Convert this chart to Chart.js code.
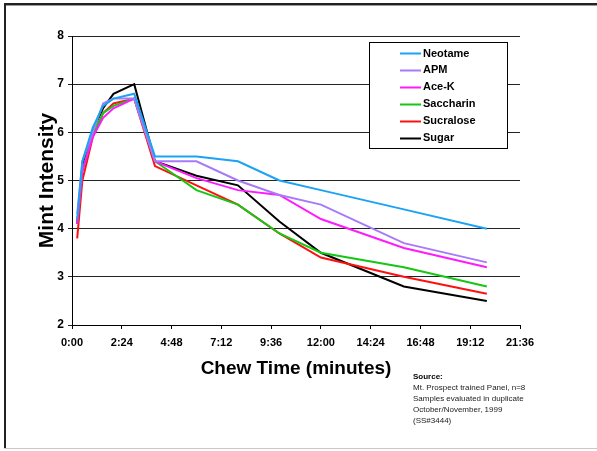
<!DOCTYPE html>
<html>
<head>
<meta charset="utf-8">
<script src="https://cdn.jsdelivr.net/npm/chart.js@4"></script>
<style>
  html, body { margin: 0; padding: 0; background: #fff; }
  #wrap { position: relative; width: 597px; height: 451px; }
  canvas { display: block; }
</style>
</head>
<body>
<div id="wrap"><canvas id="c" width="597" height="451"></canvas></div>
<script>
// ---- data ----
const timesSec = [15, 30, 60, 90, 120, 180, 240, 360, 480, 600, 720, 960, 1200];
const neotame   = [4.2, 5.4, 6.1, 6.55, 6.7, 6.8, 5.5, 5.5, 5.4, 5.0, 4.8, 4.4, 4.0];
const apm       = [4.3, 5.4, 6.0, 6.6, 6.7, 6.7, 5.4, 5.4, 5.0, 4.7, 4.5, 3.7, 3.3];
const aceK      = [4.1, 5.2, 5.9, 6.3, 6.5, 6.7, 5.4, 5.05, 4.8, 4.7, 4.2, 3.6, 3.2];
const saccharin = [4.1, 5.2, 5.95, 6.4, 6.55, 6.7, 5.4, 4.8, 4.5, 3.9, 3.5, 3.2, 2.8];
const sucralose = [3.8, 5.0, 5.9, 6.4, 6.6, 6.7, 5.3, 4.9, 4.5, 3.9, 3.4, 3.0, 2.65];
const sugar     = [4.1, 5.3, 6.05, 6.5, 6.8, 7.0, 5.4, 5.1, 4.9, 4.15, 3.5, 2.8, 2.5];
const seriesNames = ['Neotame', 'APM', 'Ace-K', 'Saccharin', 'Sucralose', 'Sugar'];
const xTickLabels = ['0:00', '2:24', '4:48', '7:12', '9:36', '12:00', '14:24', '16:48', '19:12', '21:36'];
const yTickLabels = ['2', '3', '4', '5', '6', '7', '8'];
const sourceLines = ['Mt. Prospect trained Panel, n=8', 'Samples evaluated in duplicate', 'October/November, 1999', '(SS#3444)'];

const colors = ['#1AA3F5', '#A77BF7', '#FF1AFF', '#13C813', '#FF1010', '#000000'];
const allSeries = [neotame, apm, aceK, saccharin, sucralose, sugar];
const FONT = "'Liberation Sans', Arial, sans-serif";

const datasets = allSeries.map((vals, i) => ({
  label: seriesNames[i],
  data: vals.map((v, j) => ({ x: timesSec[j], y: v })),
  borderColor: colors[i],
  backgroundColor: colors[i],
  borderWidth: 2,
  pointRadius: 0,
  tension: 0,
  fill: false
}));

const framePlugin = {
  id: 'frame',
  beforeDraw(chart) {
    const ctx = chart.ctx;
    ctx.save();
    ctx.fillStyle = '#fff';
    ctx.fillRect(0, 0, chart.width, chart.height);
    // top border
    ctx.fillStyle = '#222';
    ctx.fillRect(4, 3, 593, 2);
    ctx.fillStyle = '#999';
    ctx.fillRect(4, 5, 593, 1);
    // left border
    ctx.fillStyle = '#222';
    ctx.fillRect(4, 3, 2, 446);
    // bottom border
    ctx.fillStyle = '#c8c8c8';
    ctx.fillRect(4, 448, 593, 1);
    ctx.restore();
  }
};

const legendPlugin = {
  id: 'boxLegend',
  afterDraw(chart) {
    const ctx = chart.ctx;
    ctx.save();
    // box
    ctx.fillStyle = '#fff';
    ctx.fillRect(369.5, 42.5, 138, 106);
    ctx.strokeStyle = '#000';
    ctx.lineWidth = 1;
    ctx.strokeRect(369.5, 42.5, 138, 106);
    ctx.font = 'bold 11px ' + FONT;
    ctx.textBaseline = 'middle';
    ctx.textAlign = 'left';
    chart.data.datasets.forEach((ds, i) => {
      const y = 53 + i * 16.9;
      ctx.strokeStyle = ds.borderColor;
      ctx.lineWidth = 2;
      ctx.beginPath();
      ctx.moveTo(400, Math.round(y) + 0.5);
      ctx.lineTo(421, Math.round(y) + 0.5);
      ctx.stroke();
      ctx.fillStyle = '#000';
      ctx.fillText(ds.label, 423, y + 0.5);
    });
    // source note
    ctx.fillStyle = '#000';
    ctx.font = 'bold 8px ' + FONT;
    ctx.fillText('Source:', 413, 377);
    ctx.font = '8px ' + FONT;
    ctx.fillStyle = '#222';
    sourceLines.forEach((t, i) => ctx.fillText(t, 413, 388 + i * 11));
    ctx.restore();
  }
};

new Chart(document.getElementById('c'), {
  type: 'line',
  data: { datasets },
  plugins: [framePlugin, legendPlugin],
  options: {
    responsive: false,
    animation: false,
    devicePixelRatio: 1,
    layout: { padding: { left: 0, top: 36, right: 77, bottom: 56 } },
    plugins: { legend: { display: false }, tooltip: { enabled: false } },
    scales: {
      x: {
        type: 'linear',
        min: 0, max: 1296,
        afterFit(s) { s.height = 70; },
        border: { color: '#000', width: 1 },
        grid: { drawOnChartArea: false, drawTicks: true, tickLength: 4, color: '#000' },
        ticks: {
          stepSize: 144,
          autoSkip: false,
          maxRotation: 0,
          padding: 7,
          color: '#000',
          font: { family: FONT, size: 11, weight: 'bold' },
          callback: (v, i) => xTickLabels[i]
        },
        title: {
          display: true,
          text: 'Chew Time (minutes)',
          color: '#000',
          font: { family: FONT, size: 19, weight: 'bold' },
          padding: { top: 0, bottom: 15 }
        }
      },
      y: {
        min: 2, max: 8,
        afterFit(s) { s.width = 72; },
        border: { color: '#000', width: 1 },
        grid: { color: '#222', lineWidth: 1, tickLength: 4, drawTicks: true },
        ticks: {
          stepSize: 1,
          padding: 4,
          color: '#000',
          font: { family: FONT, size: 12, weight: 'bold' },
          callback: (v, i) => yTickLabels[i]
        },
        title: {
          display: true,
          text: 'Mint Intensity',
          color: '#000',
          font: { family: FONT, size: 21, weight: 'bold' },
          padding: { top: 35, bottom: 0 }
        }
      }
    }
  }
});
</script>
</body>
</html>
